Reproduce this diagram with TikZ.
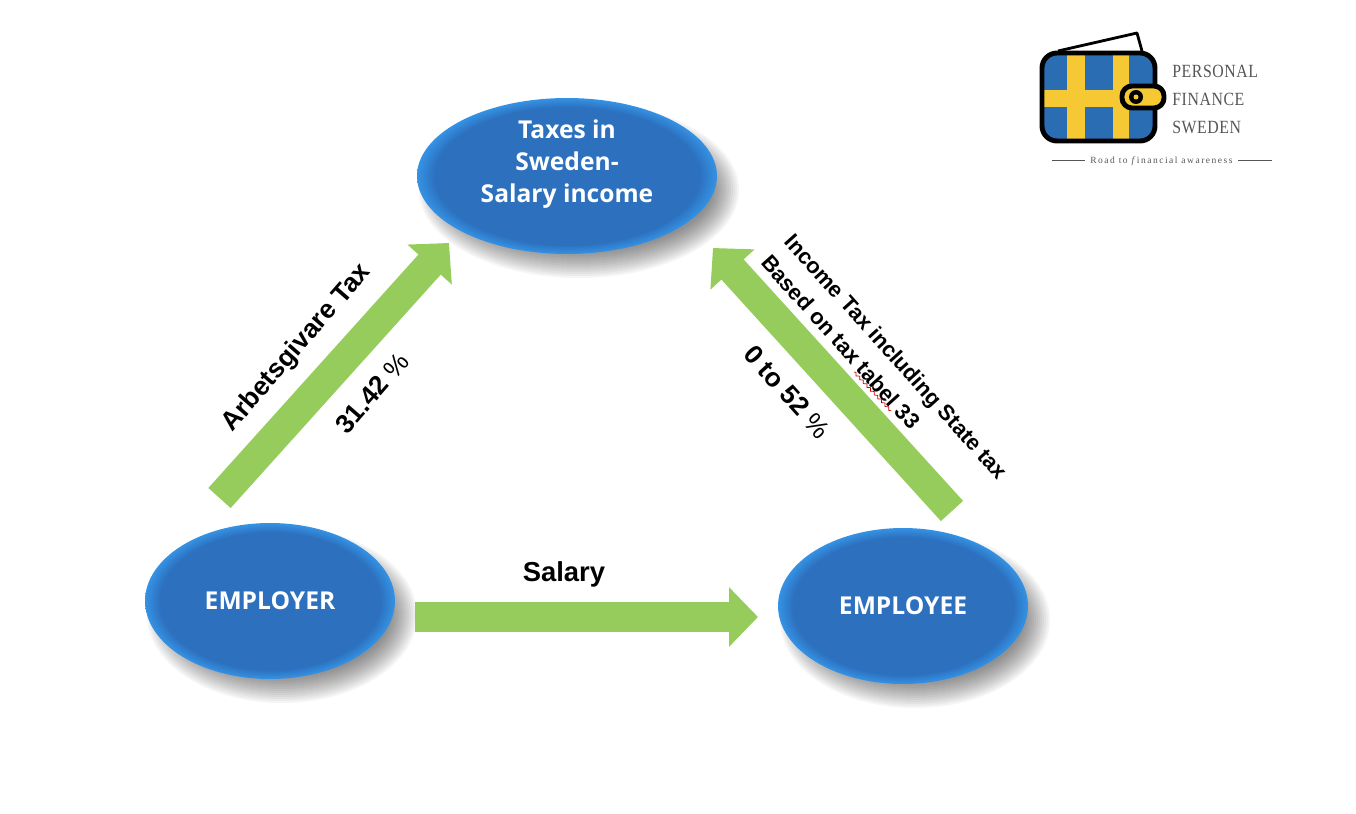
\documentclass[tikz,border=0pt]{standalone}
\usepackage{fontspec}
\setmainfont{Liberation Sans}
\newfontfamily\nodefont{Open Sans}
\newfontfamily\logofont[LetterSpace=3,FakeStretch=0.85]{Liberation Serif}
\newfontfamily\roadfont[LetterSpace=16]{Liberation Serif}
\usetikzlibrary{arrows.meta,shapes.geometric,decorations.pathmorphing}
\definecolor{taxblue}{HTML}{2C70BE}
\definecolor{rimblue}{HTML}{3592E4}
\definecolor{taxgreen}{HTML}{96CC5C}
\definecolor{flagblue}{HTML}{2A6DB3}
\definecolor{flagyellow}{HTML}{F6C833}
\definecolor{logogrey}{HTML}{555555}
\pgfdeclareradialshading{softrim}{\pgfpoint{0bp}{0bp}}{color(0bp)=(taxblue); color(22bp)=(taxblue); color(25bp)=(rimblue); color(50bp)=(rimblue)}
\newcommand{\softshadow}[4]{
	\foreach \s in {-16,-14,...,10}
		\fill[black, opacity=0.04] (#1,#2) ellipse ({#3+\s} and {#4+\s});
}
\tikzset{
	taxtext/.style={text=white, inner sep=0pt, align=center, font=\nodefont\bfseries\fontsize{14}{18}\selectfont},
	taxnode/.style={taxtext, ellipse, shading=softrim},
	blockarrow/.style={draw=taxgreen, line width=0.6cm, -{Triangle[length=0.58cm,width=1.16cm]}},
	slantlabel/.style={font=\bfseries\fontsize{15}{17}\selectfont, inner sep=0pt},
	smalllabel/.style={slantlabel, font=\bfseries\fontsize{12.5}{14}\selectfont},
	logotext/.style={font=\logofont\fontsize{10.6}{11}\selectfont, text=logogrey, anchor=west, inner sep=0pt},
	logoline/.style={draw=logogrey, line width=0.5pt},
}
\begin{document}
\begin{tikzpicture}[x=0.02cm, y=-0.02cm]
	\useasboundingbox (0,0) rectangle (1356,814);

	% shadows
	\softshadow{579}{190}{150}{78}
	\softshadow{282}{615}{125}{78}
	\softshadow{915}{620}{125}{78}

	% ellipses
	\node (taxes) [taxnode, minimum width=6cm, minimum height=3.12cm] at (567,176) {};
	\node (taxestext) [taxtext] at (567,164) {Taxes in\\Sweden-\\Salary income};
	\node (employer) [taxnode, minimum width=5cm, minimum height=3.12cm] at (270,601) {EMPLOYER};
	\node (employee) [taxnode, minimum width=5cm, minimum height=3.12cm] at (903,606) {EMPLOYEE};

	% arrows
	\coordinate (salaryStart) at (415,617);
	\coordinate (salaryEnd) at (758,617);
	\coordinate (arbStart) at (219.5,498);
	\coordinate (arbEnd) at (449,243);
	\coordinate (incomeStart) at (952,511);
	\coordinate (incomeEnd) at (713,248);
	\draw[blockarrow] (salaryStart) -- (salaryEnd);
	\draw[blockarrow] (arbStart) -- (arbEnd);
	\draw[blockarrow] (incomeStart) -- (incomeEnd);

	% labels
	\node (salary) [slantlabel, font=\bfseries\fontsize{15.6}{17}\selectfont] at (564,574) {Salary};
	\node (arbtax) [slantlabel, rotate=49] at (297,348) {Arbetsgivare Tax};
	\node (arbrate) [slantlabel, rotate=49] at (372,393) {31.42 {\mdseries\%}};
	\node (incrate) [slantlabel, rotate=-48] at (787,392) {0 to 52 {\mdseries\%}};
	\node (inctax) [smalllabel, rotate=-48] at (895,358) {Income Tax including State tax};
	\node (incbase) [smalllabel, rotate=-48] at (841,342) {Based on tax tabel 33};
	\coordinate (squigA) at (854,372);
	\coordinate (squigB) at (891,411);
	\draw[red!80!black, line width=0.4pt, decorate, decoration={snake, amplitude=0.7pt, segment length=3pt}] (squigA) -- (squigB);

	% logo
	\draw[black, line width=1.6pt, line join=round] (1058,51) -- (1137,33) -- (1142,51);
	\begin{scope}
		\clip[rounded corners=0.3cm] (1042,53) rectangle (1155,141);
		\fill[flagblue] (1042,53) rectangle (1155,141);
		\fill[flagyellow] (1067,53) rectangle (1085,141);
		\fill[flagyellow] (1113,53) rectangle (1129,141);
		\fill[flagyellow] (1042,90) rectangle (1155,107);
	\end{scope}
	\draw[black, line width=2.8pt, rounded corners=0.3cm] (1042,53) rectangle (1155,141);
	\draw[black, line width=2.8pt, fill=flagyellow, rounded corners=0.2cm] (1122,86) rectangle (1164,108);
	\fill[black] (1136,97) circle (7);
	\fill[flagyellow] (1136,97) circle (2.5);
	\node (personal) [logotext] at (1172,71) {PERSONAL};
	\node (finance) [logotext] at (1172,99) {FINANCE};
	\node (sweden) [logotext] at (1172,127) {SWEDEN};
	\node (road) [logotext, font=\roadfont\fontsize{5.4}{6}\selectfont] at (1090,161) {Road to \textit{f}inancial awareness};
	\coordinate (lineAs) at (1052,160);
	\coordinate (lineAe) at (1085,160);
	\coordinate (lineBs) at (1238,160);
	\coordinate (lineBe) at (1272,160);
	\draw[logoline] (lineAs) -- (lineAe);
	\draw[logoline] (lineBs) -- (lineBe);
\end{tikzpicture}
\end{document}
